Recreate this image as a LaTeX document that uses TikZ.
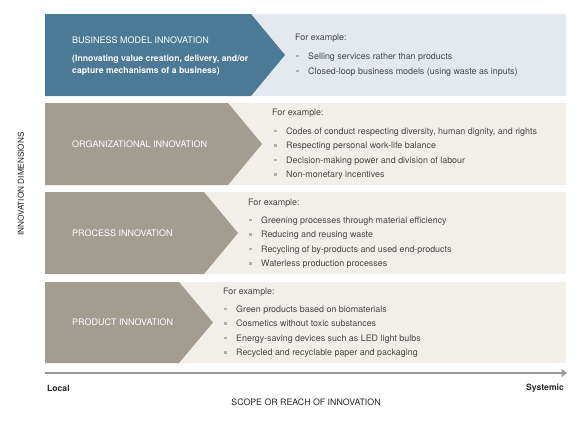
\documentclass[tikz,border=0pt]{standalone}
\usepackage{fontspec}
\setmainfont{TeX Gyre Heros}
\usetikzlibrary{arrows.meta}

\definecolor{bizblue}{HTML}{4A7A95}
\definecolor{taupe}{HTML}{A39D90}
\definecolor{bluepanel}{HTML}{E4E8EF}
\definecolor{sandpanel}{HTML}{F2EFEB}
\definecolor{bodytext}{HTML}{484848}
\definecolor{dotgray}{HTML}{B0B0B0}
\definecolor{axisgray}{HTML}{9A9A9A}

\newcommand{\exbullet}{\textcolor{dotgray}{\rule[1.9pt]{2.5pt}{2.5pt}}\hspace{9.5pt}}

\tikzset{
	dimtitle/.style = {anchor=west, inner sep=0pt, text=white, font=\fontsize{9}{12}\selectfont},
	forex/.style    = {anchor=west, inner sep=0pt, text=bodytext, font=\fontsize{8.9}{10}\selectfont,
	                   text height=6.6pt, text depth=1.9pt},
	exitem/.style   = {forex},
	axislabel/.style= {inner sep=0pt, text=black!85, font=\fontsize{8.8}{10}\selectfont}
}

\begin{document}
\begin{tikzpicture}[x=1pt,y=-1pt]
	\useasboundingbox (0,0) rectangle (580,424);
	\fill[white] (0,0) rectangle (580,424);

	% panels and chevrons
	\foreach \top/\bot/\xr/\col/\pan in {14/96/251/bizblue/bluepanel, 103/185/228/taupe/sandpanel,
	                                     192/274/204/taupe/sandpanel, 282/363/179/taupe/sandpanel} {
		\fill[\pan] (45,\top) rectangle (566,\bot);
		\fill[\col] (45,\top) -- (\xr,\top) -- ({\xr+34},{(\top+\bot)/2}) -- (\xr,\bot) -- (45,\bot) -- cycle;
	}

	% business model
	\node[dimtitle] (bm) at (72,40) {BUSINESS MODEL INNOVATION};
	\node[dimtitle, align=left, font=\fontsize{8.7}{12}\selectfont\bfseries] (bm-sub) at (72,65.5) {(Innovating value creation, delivery, and/or\\capture mechanisms of a business)};
	\node[forex] (bm-ex) at (295,38) {For example:};
	\foreach \t [count=\i] in {Selling services rather than products, {Closed-loop business models (using waste as inputs)}}
		\node[exitem] (bm-\i) at (296,{57+15*(\i-1)}) {\exbullet\t};

	% organizational
	\node[dimtitle] (org) at (72,144) {ORGANIZATIONAL INNOVATION};
	\node[forex] (org-ex) at (272,113) {For example:};
	\foreach \t [count=\i] in {{Codes of conduct respecting diversity, human dignity, and rights},
	                           Respecting personal work-life balance,
	                           Decision-making power and division of labour,
	                           Non-monetary incentives}
		\node[exitem] (org-\i) at (274,{132+14.4*(\i-1)}) {\exbullet\t};

	% process
	\node[dimtitle] (proc) at (72,233) {PROCESS INNOVATION};
	\node[forex] (proc-ex) at (248,203) {For example:};
	\foreach \t [count=\i] in {Greening processes through material efficiency,
	                           Reducing and reusing waste,
	                           Recycling of by-products and used end-products,
	                           Waterless production processes}
		\node[exitem] (proc-\i) at (249,{221+14.4*(\i-1)}) {\exbullet\t};

	% product
	\node[dimtitle] (prod) at (72,322) {PRODUCT INNOVATION};
	\node[forex] (prod-ex) at (223,292) {For example:};
	\foreach \t [count=\i] in {Green products based on biomaterials,
	                           Cosmetics without toxic substances,
	                           Energy-saving devices such as LED light bulbs,
	                           Recycled and recyclable paper and packaging}
		\node[exitem] (prod-\i) at (224,{310+14.4*(\i-1)}) {\exbullet\t};

	% axes
	\coordinate (axis-start) at (45,373);
	\coordinate (axis-end) at (567,373);
	\draw[axisgray, line width=2pt, -{Triangle[length=5.5pt,width=8pt]}] (axis-start) -- (axis-end);
	\node[axislabel, anchor=west, font=\fontsize{8.6}{10}\selectfont\bfseries] (local) at (47,388) {Local};
	\node[axislabel, anchor=east, font=\fontsize{8.6}{10}\selectfont\bfseries] (systemic) at (564,388) {Systemic};
	\node[axislabel] (scope) at (306,402) {SCOPE OR REACH OF INNOVATION};
	\node[axislabel, rotate=90, font=\fontsize{8.2}{10}\selectfont] (dims) at (21,184) {INNOVATION DIMENSIONS};
\end{tikzpicture}
\end{document}
